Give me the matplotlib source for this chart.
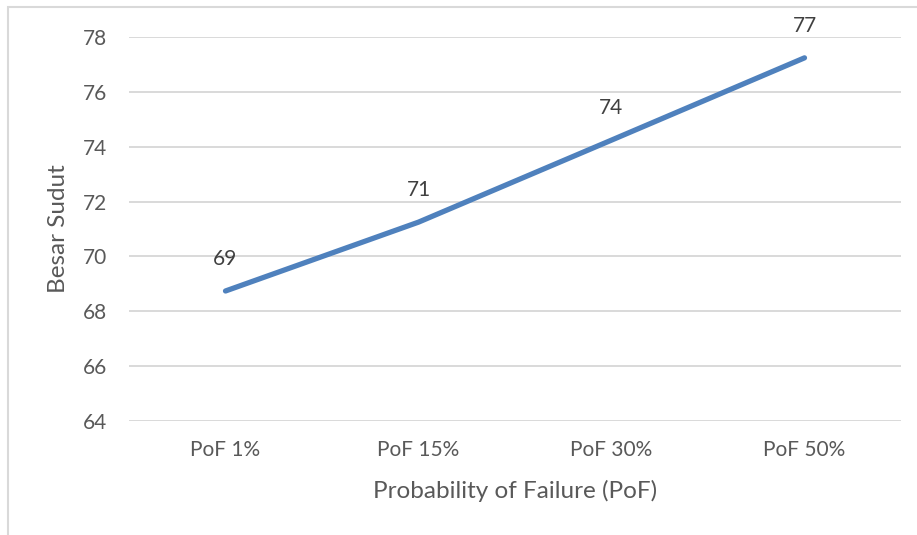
import matplotlib.pyplot as plt
from matplotlib.patches import Rectangle

categories = ['PoF 1%', 'PoF 15%', 'PoF 30%', 'PoF 50%']
besar_sudut = [68.74, 71.25, 74.24, 77.24]
y_ticks = [64, 66, 68, 70, 72, 74, 76, 78]

plt.rcParams['font.family'] = ['Lato', 'DejaVu Sans']
text_color = '#595959'

fig = plt.figure(figsize=(9.17, 5.35), dpi=100)
ax = fig.add_axes([129 / 917, 1 - 421 / 535, 772 / 917, 384 / 535])

# light chart-area frame
fig.patches.append(Rectangle((8 / 917, -0.1), 1.2, 1 - 7 / 535 + 0.1,
                             transform=fig.transFigure, fill=False,
                             edgecolor='#D9D9D9', linewidth=1.5))

x = list(range(len(categories)))
ax.plot(x, besar_sudut, color='#4F81BD', linewidth=3.8, solid_capstyle='round')

for xi, v in zip(x, besar_sudut):
    ax.annotate(f'{v:.0f}', (xi, v), xytext=(0, 23), textcoords='offset points',
                ha='center', va='center', fontsize=15, color='#404040')

ax.set_xlim(-0.5, 3.5)
ax.set_ylim(64, 78)
ax.set_yticks(y_ticks)
ax.set_xticks(x)
ax.set_xticklabels(categories)
ax.tick_params(length=0, labelsize=15, labelcolor=text_color)
ax.tick_params(axis='y', pad=16)
ax.tick_params(axis='x', pad=14)
ax.yaxis.grid(True, color='#D9D9D9', linewidth=1.4)
ax.set_axisbelow(True)
for s in ax.spines.values():
    s.set_visible(False)

ax.set_xlabel('Probability of Failure (PoF)', fontsize=17.5, color=text_color, labelpad=14)
ax.set_ylabel('Besar Sudut', fontsize=17.5, color=text_color, labelpad=10)

fig.savefig('out.png', dpi=100)
